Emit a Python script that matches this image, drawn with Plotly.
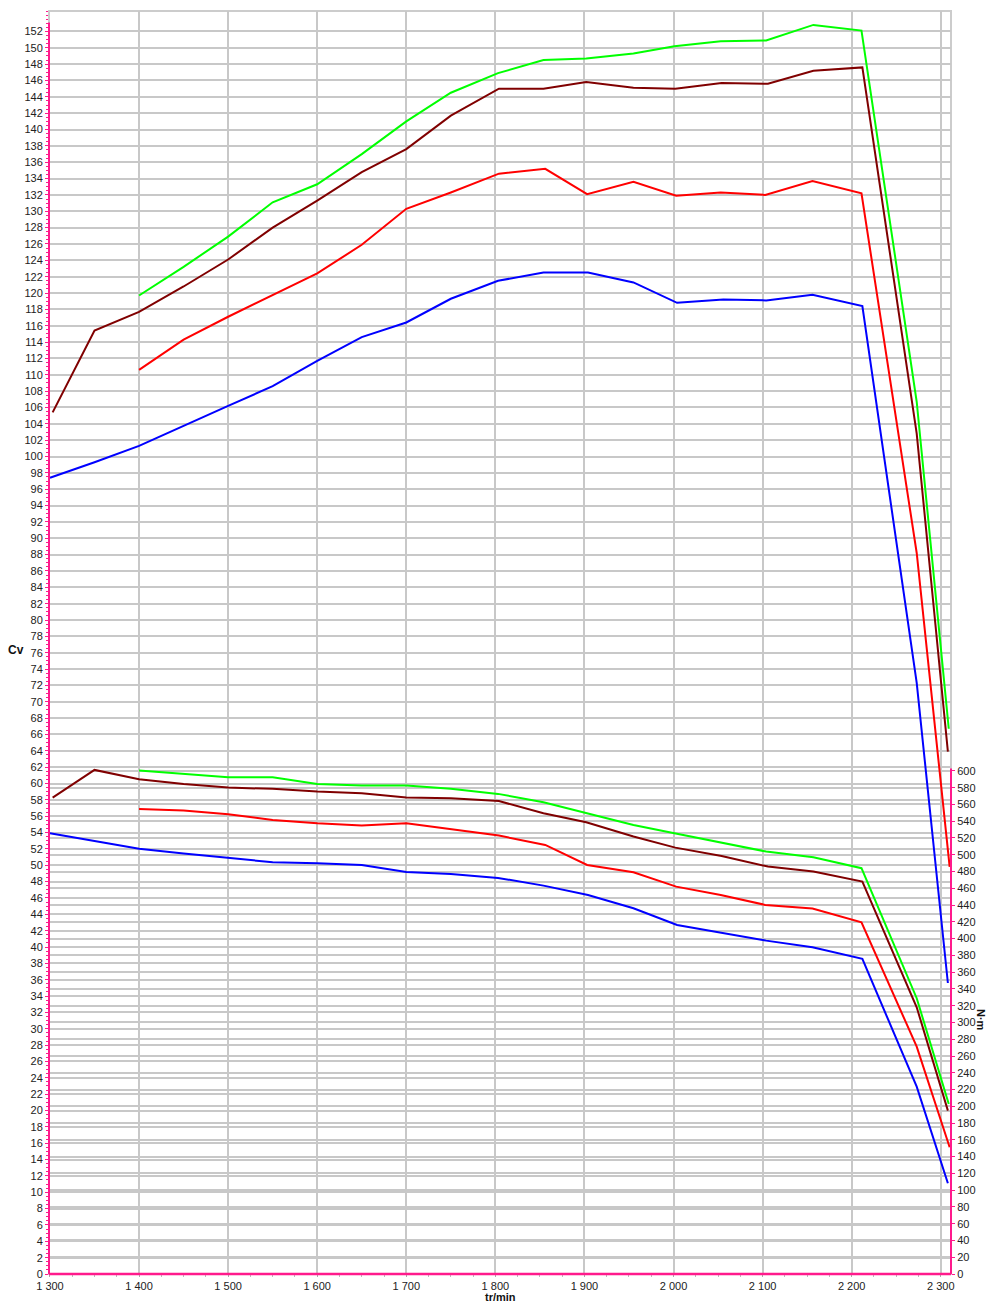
import plotly.graph_objects as go

# ---------------- data ----------------
green_rpm = [1400, 1450, 1500, 1550, 1600, 1650, 1700, 1750, 1803, 1854, 1902, 1955, 2001, 2053, 2104, 2157, 2211, 2273, 2309]
green_cv = [119.7, 123.2, 126.9, 131.1, 133.3, 137.0, 141.0, 144.5, 146.9, 148.5, 148.7, 149.3, 150.2, 150.8, 150.9, 152.8, 152.1, 106.7, 66.7]
green_nm = [600.4, 596.4, 592.5, 592.5, 584.5, 582.5, 582.5, 578.6, 572.6, 562.7, 549.6, 535.6, 525.7, 515.0, 503.8, 497.1, 484.0, 328.9, 202.8]

brown_rpm = [1303, 1350, 1400, 1450, 1500, 1550, 1600, 1650, 1700, 1750, 1804, 1854, 1902, 1955, 2002, 2054, 2106, 2157, 2212, 2273, 2308]
brown_cv = [105.4, 115.4, 117.7, 120.8, 124.1, 128.0, 131.3, 134.8, 137.6, 141.7, 145.0, 145.0, 145.8, 145.1, 145.0, 145.7, 145.6, 147.2, 147.6, 102.8, 63.9]
brown_nm = [568.2, 601.2, 590.1, 584.5, 580.1, 578.6, 575.3, 573.4, 568.2, 567.4, 564.0, 549.6, 538.8, 521.7, 508.5, 498.6, 485.9, 479.9, 468.0, 318.1, 194.8]

red_rpm = [1400, 1450, 1500, 1550, 1600, 1650, 1700, 1750, 1804, 1856, 1903, 1955, 2003, 2053, 2103, 2156, 2211, 2273, 2310]
red_cv = [110.6, 114.3, 117.1, 119.7, 122.4, 125.9, 130.3, 132.3, 134.6, 135.2, 132.1, 133.6, 131.9, 132.3, 132.0, 133.7, 132.2, 88.2, 49.8]
red_nm = [554.7, 552.7, 548.4, 541.6, 537.6, 534.8, 537.6, 530.8, 522.9, 511.7, 487.9, 479.2, 462.0, 452.1, 440.2, 435.8, 419.5, 271.1, 151.1]

blue_rpm = [1300, 1350, 1400, 1450, 1500, 1550, 1600, 1650, 1700, 1750, 1803, 1854, 1904, 1955, 2004, 2056, 2104, 2156, 2212, 2273, 2308]
blue_cv = [97.4, 99.3, 101.3, 103.8, 106.2, 108.6, 111.7, 114.6, 116.4, 119.3, 121.5, 122.5, 122.5, 121.3, 118.8, 119.2, 119.1, 119.8, 118.4, 72.3, 35.6]
blue_nm = [525.7, 516.5, 507.3, 501.4, 495.9, 491.1, 489.9, 487.9, 479.5, 477.2, 472.4, 463.2, 452.1, 436.2, 416.3, 406.4, 397.6, 389.7, 375.8, 223.4, 108.2]

x_ticks = list(range(1300, 2301, 100))
cv_ticks = list(range(0, 153, 2))
nm_ticks = list(range(0, 601, 20))

# ---------------- figure ----------------
PINK = "#ff1a8c"
GRID = "#c8c8c8"
FONT = "Liberation Sans, Arial, sans-serif"

W, H = 986, 1304
ML, MR, MT, MB = 49, 35, 11, 30
PW, PH = W - ML - MR, H - MT - MB

X_RANGE = [1298.9, 2311.5]
CV_RANGE = [0, 154.5]
NM_RANGE = [0, 154.5 * 8.173 / 0.8383]


def px_x(px):
    return (px - ML) / PW


def px_y(py):
    return (H - MB - py) / PH


fig = go.Figure()

series = [
    ("#0000ff", blue_rpm, blue_cv, blue_nm),
    ("#ff0000", red_rpm, red_cv, red_nm),
    ("#800000", brown_rpm, brown_cv, brown_nm),
    ("#00ff00", green_rpm, green_cv, green_nm),
]
for color, rpm, cv, nm in series:
    fig.add_trace(go.Scatter(x=rpm, y=cv, mode="lines", line=dict(color=color, width=2),
                             yaxis="y", showlegend=False, hoverinfo="skip"))
    fig.add_trace(go.Scatter(x=rpm, y=nm, mode="lines", line=dict(color=color, width=2),
                             yaxis="y2", showlegend=False, hoverinfo="skip"))

fig.update_layout(
    width=W, height=H,
    margin=dict(l=ML, r=MR, t=MT, b=MB),
    paper_bgcolor="white", plot_bgcolor="white",
    separators=", ",
    font=dict(family=FONT, size=11, color="#222222"),
    xaxis=dict(
        range=X_RANGE, tickvals=x_ticks, separatethousands=True, tickformat=",d",
        showgrid=True, gridcolor=GRID, gridwidth=1.5, zeroline=False,
        showline=False, ticks="outside", ticklen=2, tickcolor="#aaaaaa",
        minor=dict(dtick=25, tick0=1300, ticks="outside", ticklen=2, tickcolor="#bbbbbb", showgrid=False),
        tickfont=dict(size=11, family=FONT),
    ),
    yaxis=dict(
        range=CV_RANGE, tickvals=cv_ticks, showgrid=True, gridcolor=GRID, gridwidth=1.5,
        zeroline=False, showline=False, ticks="outside", ticklen=3, tickcolor=PINK,
        minor=dict(dtick=0.5, ticks="outside", ticklen=2, tickcolor=PINK, showgrid=False),
        tickfont=dict(size=11, family=FONT),
    ),
    yaxis2=dict(
        range=NM_RANGE, tickvals=nm_ticks, overlaying="y", side="right",
        showgrid=True, gridcolor=GRID, gridwidth=1.5, zeroline=False, showline=False,
        ticks="outside", ticklen=3, tickcolor=PINK,
        tickfont=dict(size=11, family=FONT),
    ),
)

# frame around plot area (grey)
fig.add_shape(type="rect", xref="paper", yref="paper", x0=0, x1=1, y0=0, y1=1,
              line=dict(color="#cccccc", width=2), layer="below")
# pink axis lines
fig.add_shape(type="line", xref="paper", yref="y", x0=0, x1=0, y0=0, y1=153.1,
              line=dict(color=PINK, width=2))
fig.add_shape(type="line", xref="paper", yref="y2", x0=1, x1=1, y0=0, y1=603,
              line=dict(color=PINK, width=2))
fig.add_shape(type="line", xref="paper", yref="paper", x0=0, x1=1, y0=0, y1=0,
              line=dict(color=PINK, width=2.5))

# axis titles
fig.add_annotation(text="<b>Cv</b>", xref="paper", yref="paper", x=px_x(16), y=px_y(650),
                   xanchor="center", yanchor="middle",
                   showarrow=False, font=dict(size=12, family=FONT, color="#111111"))
fig.add_annotation(text="<b>N·m</b>", xref="paper", yref="paper", x=px_x(981), y=px_y(1020),
                   xanchor="center", yanchor="middle",
                   showarrow=False, textangle=90, font=dict(size=11, family=FONT, color="#111111"))
fig.add_annotation(text="<b>tr/min</b>", xref="paper", yref="paper", x=px_x(500), y=px_y(1305),
                   xanchor="center", yanchor="bottom",
                   showarrow=False, font=dict(size=11, family=FONT, color="#111111"))

fig.write_html("out.html", config={"displayModeBar": False},
               post_script="document.body.style.margin='0';document.body.style.overflow='hidden';")
